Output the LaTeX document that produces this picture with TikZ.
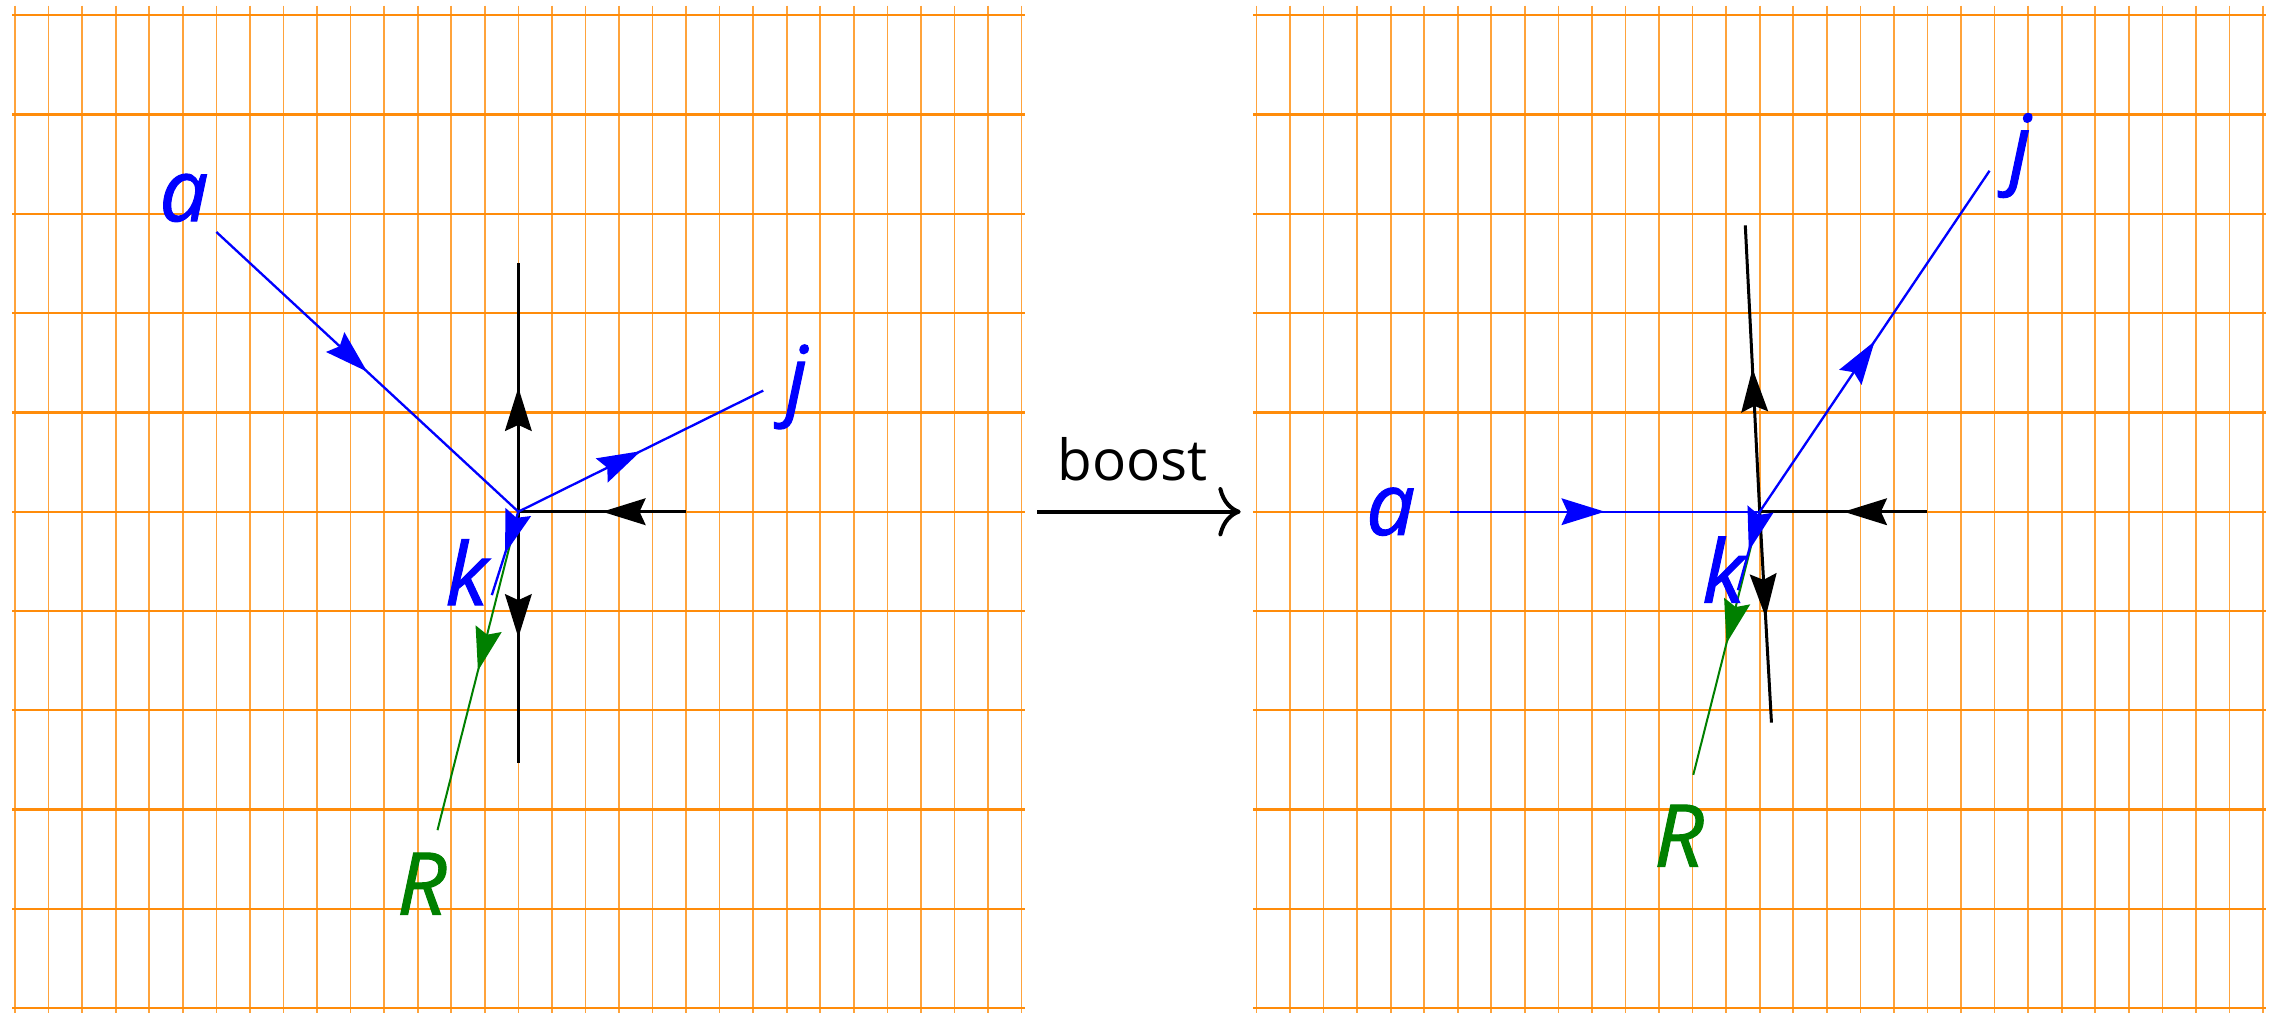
\documentclass[tikz,border=0pt]{standalone}
\usepackage{fontspec}
\setmainfont{Open Sans}[ItalicFeatures={FakeBold=1.2}]
\usetikzlibrary{arrows.meta,decorations.markings}
\definecolor{gridorange}{RGB}{255,140,10}
\definecolor{vecblue}{RGB}{0,0,255}
\definecolor{vecgreen}{RGB}{0,128,0}
\tikzset{
  hgrid/.style={gridorange, line width=0.7pt},
  vgrid/.style={gridorange!80, line width=0.5pt},
  midtip/.style={postaction={decorate}, decoration={markings,
      mark=at position 0.5 with {\arrow{Stealth[length=13pt,width=8pt,inset=1.8pt]}}}},
  blackvec/.style={black, line width=0.9pt, midtip},
  bluevec/.style={vecblue, line width=0.7pt, midtip},
  greenvec/.style={vecgreen, line width=0.6pt, midtip},
  lbl/.style={inner sep=0pt, font=\itshape\fontsize{26}{30}\selectfont},
  boostarrow/.style={line width=1.2pt, -{Computer Modern Rightarrow[length=6.7pt,width=14.8pt]}},
}
\begin{document}
\begin{tikzpicture}[x=10.065pt, y=9.93pt]
\useasboundingbox (-15.45,-15.14) rectangle (52.18,15.46);
% grids
\foreach \ox in {0,37} {
  \foreach \i in {-15,...,15} \draw[vgrid] (\ox+\i,15.29) -- (\ox+\i,-15.14);
  \foreach \j in {-15,-12,...,15} \draw[hgrid] (\ox-15.09,\j) -- (\ox+15.1,\j);
}
% ---------- left panel ----------
\coordinate (L) at (0,0);
\coordinate (La) at (-9,8.45);
\coordinate (Lj) at (7.3,3.66);
\coordinate (Lk) at (-0.79,-2.52);
\coordinate (LR) at (-2.41,-9.62);
\coordinate (Lup) at (0,7.5);
\coordinate (Ldown) at (0,-7.6);
\coordinate (Lb) at (5,0);
\draw[blackvec] (L) -- (Lup);
\draw[blackvec] (L) -- (Ldown);
\draw[blackvec] (Lb) -- (L);
\draw[bluevec] (La) -- (L);
\draw[bluevec] (L) -- (Lj);
\draw[greenvec] (L) -- (LR);
\draw[bluevec] (L) -- (Lk);
\node[lbl, vecblue] (La-lbl) at (-9.97,9.48) {a};
\node[lbl, vecblue] (Lj-lbl) at (8.29,3.77) {j};
\node[lbl, vecblue] (Lk-lbl) at (-1.54,-1.83) {k};
\node[lbl, vecgreen] (LR-lbl) at (-2.88,-11.24) {R};
% ---------- boost ----------
\coordinate (bA) at (15.47,0);
\coordinate (bB) at (21.53,0);
\draw[boostarrow] (bA) -- (bB);
\node[inner sep=0pt, anchor=base, font=\fontsize{17}{20}\selectfont] (boost) at (18.31,0.93) {boost};
% ---------- right panel ----------
\begin{scope}[shift={(37,0)}]
\coordinate (R0) at (0,0);
\coordinate (Ra) at (-9.23,0);
\coordinate (Rj) at (6.85,10.3);
\coordinate (Rk) at (-0.65,-2.37);
\coordinate (RR) at (-1.98,-7.95);
\coordinate (Rup) at (-0.43,8.65);
\coordinate (Rdown) at (0.35,-6.37);
\coordinate (Rb) at (5,0);
\draw[blackvec] (R0) -- (Rup);
\draw[blackvec] (R0) -- (Rdown);
\draw[blackvec] (Rb) -- (R0);
\draw[bluevec] (Ra) -- (R0);
\draw[bluevec] (R0) -- (Rj);
\draw[greenvec] (R0) -- (RR);
\draw[bluevec] (R0) -- (Rk);
\node[lbl, vecblue] (Ra-lbl) at (-11.0,0) {a};
\node[lbl, vecblue] (Rj-lbl) at (7.76,10.76) {j};
\node[lbl, vecblue] (Rk-lbl) at (-1.08,-1.75) {k};
\node[lbl, vecgreen] (RR-lbl) at (-2.41,-9.79) {R};
\end{scope}
\end{tikzpicture}
\end{document}
